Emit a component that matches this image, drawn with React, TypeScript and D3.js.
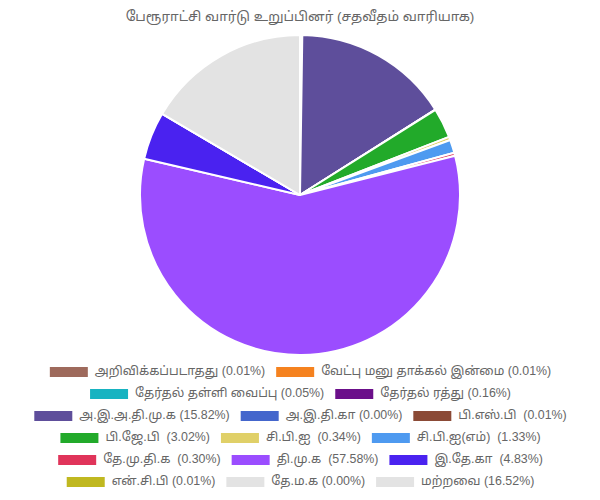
import { useEffect, useRef } from "react";
import * as d3 from "d3";

const TITLE = "பேரூராட்சி வார்டு உறுப்பினர் (சதவீதம் வாரியாக)";

const labels = [
  "அறிவிக்கப்படாதது (0.01%)",
  "வேட்பு மனு தாக்கல் இன்மை (0.01%)",
  "தேர்தல் தள்ளி வைப்பு (0.05%)",
  "தேர்தல் ரத்து (0.16%)",
  "அ.இ.அ.தி.மு.க (15.82%)",
  "அ.இ.தி.கா (0.00%)",
  "பி.எஸ்.பி  (0.01%)",
  "பி.ஜே.பி  (3.02%)",
  "சி.பி.ஐ  (0.34%)",
  "சி.பி.ஐ(எம்)  (1.33%)",
  "தே.மு.தி.க  (0.30%)",
  "தி.மு.க  (57.58%)",
  "இ.தே.கா  (4.83%)",
  "என்.சி.பி (0.01%)",
  "தே.ம.க (0.00%)",
  "மற்றவை (16.52%)",
];

const values = [
  0.01, 0.01, 0.05, 0.16, 15.82, 0.0, 0.01, 3.02, 0.34, 1.33, 0.3, 57.58,
  4.83, 0.01, 0.0, 16.52,
];

const colors = [
  "#9e6a5c",
  "#f5821f",
  "#17b3c1",
  "#6b0f8a",
  "#5e4e9b",
  "#4466cc",
  "#8b4a36",
  "#22aa2a",
  "#e0d068",
  "#4e9af0",
  "#e0345a",
  "#9b4dff",
  "#4a22f0",
  "#c0b820",
  "#e3e3e3",
  "#e3e3e3",
];

// how many legend items sit on each row
const legendRows = [2, 2, 3, 3, 3, 3];

const FONT = "'Liberation Sans', 'Noto Sans Tamil', 'Noto Sans', sans-serif";

export default function App() {
  const svgRef = useRef<SVGSVGElement>(null);

  useEffect(() => {
    if (!svgRef.current) return;
    const width = 600;
    const height = 500;
    const svg = d3.select(svgRef.current);
    svg.selectAll("*").remove();

    svg
      .append("text")
      .attr("x", width / 2)
      .attr("y", 17)
      .attr("text-anchor", "middle")
      .attr("dominant-baseline", "middle")
      .attr("font-family", FONT)
      .attr("font-size", 13.5)
      .attr("fill", "#666")
      .text(TITLE);

    const cx = 300;
    const cy = 195;
    const radius = 160;

    const pie = d3
      .pie<number>()
      .sort(null)
      .value((d) => d);
    const arc = d3.arc<d3.PieArcDatum<number>>().innerRadius(0).outerRadius(radius);

    svg
      .append("g")
      .attr("transform", `translate(${cx},${cy})`)
      .selectAll("path")
      .data(pie(values))
      .join("path")
      .attr("d", arc)
      .attr("fill", (_, i) => colors[i])
      .attr("stroke", "#fff")
      .attr("stroke-width", 2)
      .attr("stroke-linejoin", "round");

    // Legend, laid out like Chart.js: box 40x12, gap 6, padding 10
    const legend = svg.append("g");
    const boxW = 40;
    const boxH = 12;
    const fontSize = 12.4;
    const pad = 10;
    let idx = 0;
    legendRows.forEach((count, row) => {
      const yMid = 372 + row * 22;
      const items = d3.range(idx, idx + count);
      idx += count;
      const groups = items.map((i) => {
        const g = legend.append("g");
        g.append("rect")
          .attr("width", boxW)
          .attr("height", boxH)
          .attr("y", yMid - boxH / 2)
          .attr("fill", colors[i])
          .attr("stroke", "#fff")
          .attr("stroke-width", 2);
        const t = g
          .append("text")
          .attr("x", boxW + 6)
          .attr("y", yMid)
          .attr("dominant-baseline", "middle")
          .attr("font-family", FONT)
          .attr("font-size", fontSize)
          .attr("fill", "#666")
          .style("white-space", "pre")
          .text(labels[i]);
        const w = boxW + 6 + (t.node() as SVGTextElement).getComputedTextLength();
        return { g, w };
      });
      const total = d3.sum(groups, (d) => d.w) + pad * (groups.length - 1);
      let x = (width - total) / 2;
      groups.forEach(({ g, w }) => {
        g.attr("transform", `translate(${x},0)`);
        x += w + pad;
      });
    });
  }, []);

  return (
    <svg
      ref={svgRef}
      width={600}
      height={500}
      style={{ position: "absolute", left: 0, top: 0, background: "#fff" }}
    />
  );
}
